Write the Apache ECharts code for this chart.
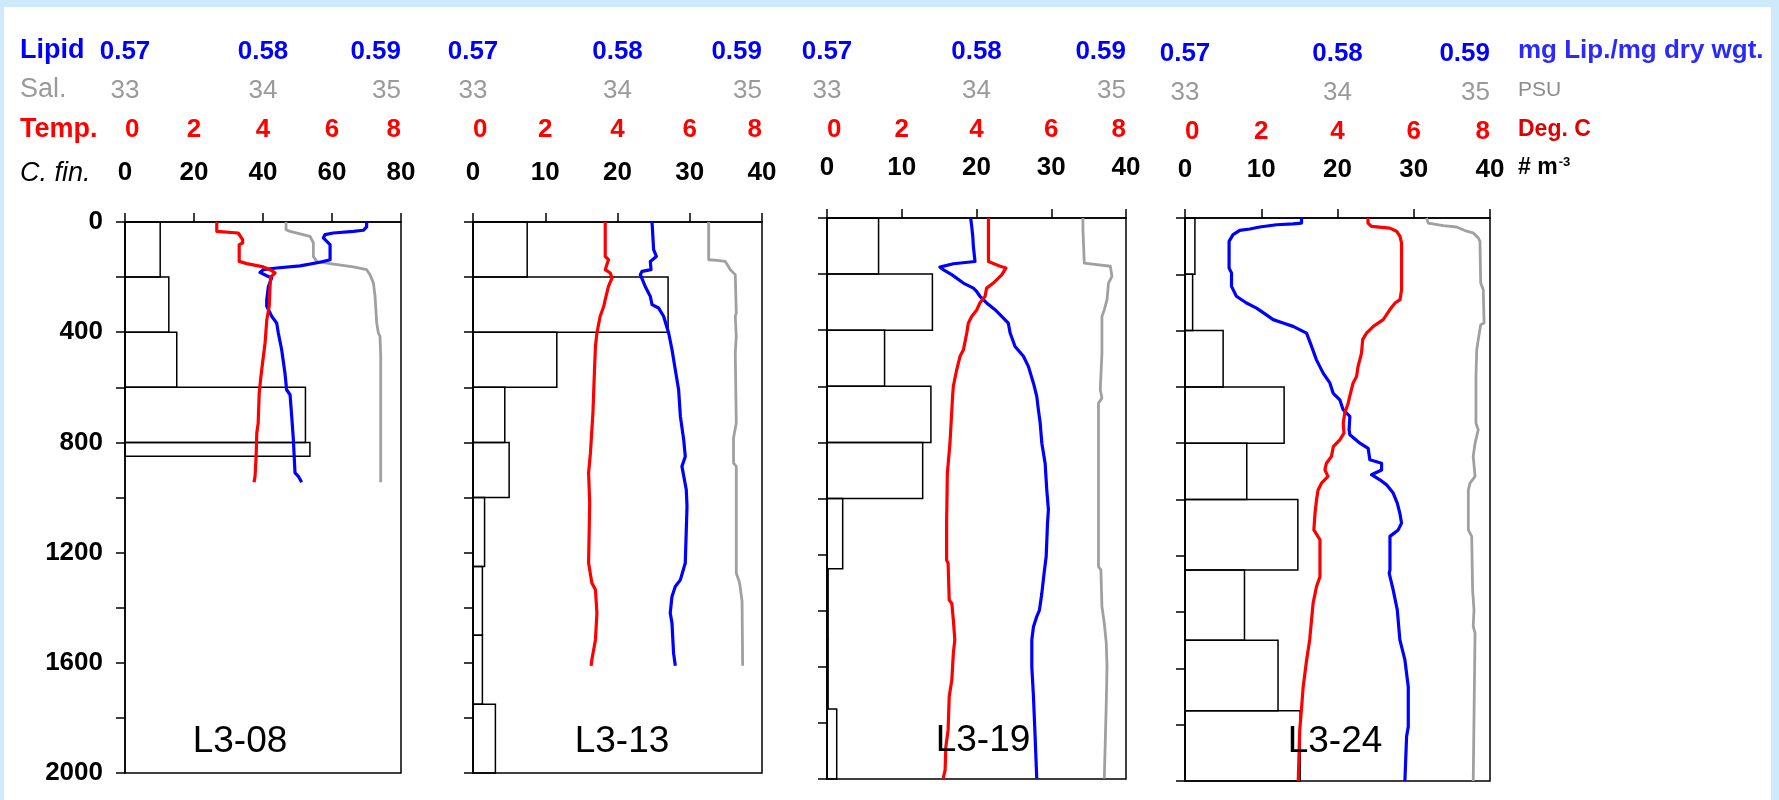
<!DOCTYPE html>
<html><head><meta charset="utf-8">
<script src="https://cdn.jsdelivr.net/npm/echarts@6/dist/echarts.min.js"></script>
<style>
html,body{margin:0;padding:0;background:#cde9fc;width:1779px;height:800px;overflow:hidden;}
#frame{position:absolute;left:4px;top:7px;width:1767px;height:793px;background:#fff;}
#chart{position:absolute;left:0;top:0;width:1779px;height:800px;}
</style></head><body>
<div id="frame"></div>
<div id="chart"></div>
<script>
// ---------- DATA ----------
const stations = ['L3-08', 'L3-13', 'L3-19', 'L3-24'];
const cfinRanges = [[0, 80, 20], [0, 40, 10], [0, 40, 10], [0, 40, 10]]; // C. finmarchicus axis (# m-3)
const tempRange = [0, 8, 2];        // Deg. C
const lipidRange = [0.57, 0.59, 0.01]; // mg Lip./mg dry wgt.
const salRange = [33, 35, 1];       // PSU
const depthRange = [0, 2000, 200];  // m
const rowLabels = ['Lipid', 'Sal.', 'Temp.', 'C. fin.'];
const unitLabels = ['mg Lip./mg dry wgt.', 'PSU', 'Deg. C', '# m'];

// histogram bins: [depthTop, depthBottom, abundance]
const cfin08 = [[0,200,10.2],[200,400,12.7],[400,600,15.0],[600,800,52.3],[800,850,53.6]];
const cfin13 = [[0,200,7.5],[200,400,27.0],[400,600,11.6],[600,800,4.4],[800,1000,5.0],[1000,1250,1.6],[1250,1500,1.3],[1500,1750,1.3],[1750,2000,3.1]];
const cfin19 = [[0,200,6.9],[200,400,14.1],[400,600,7.7],[600,800,13.9],[800,1000,12.8],[1000,1250,2.1],[1250,1500,0.15],[1500,1750,0.15],[1750,2000,1.3]];
const cfin24 = [[0,200,1.3],[200,400,1.0],[400,600,5.0],[600,800,13.0],[800,1000,8.1],[1000,1250,14.8],[1250,1500,7.8],[1500,1750,12.2],[1750,2000,15.1]];

// profiles: [value, depth]
const temp08 = [[2.66,0],[2.66,34],[3.28,40],[3.41,64],[3.41,76],[3.31,82],[3.31,143],[3.53,151],[4.01,163],[4.2,173],[4.35,185],[4.22,200],[4.2,246],[4.18,306],[4.11,355],[4.06,439],[4.01,488],[3.94,560],[3.89,621],[3.86,730],[3.82,766],[3.8,851],[3.77,923],[3.74,945]];
const lipid08 = [[0.58751,0],[0.58751,18],[0.58727,30],[0.58655,34],[0.5851,40],[0.58449,46],[0.58437,58],[0.58486,82],[0.58486,137],[0.58413,146],[0.58268,159],[0.58099,167],[0.58002,173],[0.57978,183],[0.58027,195],[0.58063,203],[0.58039,234],[0.58027,282],[0.58027,306],[0.58063,342],[0.58099,367],[0.58111,403],[0.58135,463],[0.58159,548],[0.58171,609],[0.58196,627],[0.58208,705],[0.5822,790],[0.58232,911],[0.58256,923],[0.5828,945]];
const sal08 = [[34.167,0],[34.167,28],[34.196,34],[34.341,52],[34.365,76],[34.365,125],[34.389,143],[34.486,151],[34.655,163],[34.751,173],[34.775,191],[34.8,221],[34.812,270],[34.824,367],[34.836,403],[34.848,415],[34.853,488],[34.853,945]];

const temp13 = [[3.66,0],[3.66,125],[3.75,137],[3.66,173],[3.8,185],[3.85,203],[3.75,234],[3.66,282],[3.62,306],[3.52,342],[3.43,403],[3.39,451],[3.36,548],[3.32,693],[3.25,839],[3.2,911],[3.23,1020],[3.2,1238],[3.29,1310],[3.39,1335],[3.43,1419],[3.39,1516],[3.29,1589],[3.27,1611]];
const lipid13 = [[0.58239,0],[0.5825,100],[0.58269,125],[0.58227,143],[0.58232,173],[0.5817,179],[0.58158,191],[0.58192,234],[0.58227,270],[0.58239,300],[0.58284,312],[0.58319,342],[0.58354,403],[0.58377,463],[0.584,536],[0.58423,609],[0.58435,705],[0.58458,790],[0.58469,851],[0.58446,887],[0.58476,972],[0.58481,1032],[0.58469,1238],[0.58435,1299],[0.584,1323],[0.58377,1359],[0.58365,1419],[0.58377,1456],[0.58388,1565],[0.584,1611]];
const sal13 = [[34.631,0],[34.631,137],[34.689,139],[34.746,143],[34.781,173],[34.815,191],[34.822,330],[34.815,342],[34.822,415],[34.815,476],[34.822,730],[34.803,784],[34.803,875],[34.822,887],[34.822,1274],[34.845,1310],[34.862,1377],[34.866,1611]];

const temp19 = [[4.32,0],[4.32,155],[4.63,172],[4.79,178],[4.68,202],[4.45,232],[4.27,250],[4.23,279],[4.09,303],[4.01,327],[3.87,351],[3.78,375],[3.74,410],[3.65,470],[3.56,493],[3.47,541],[3.38,600],[3.36,636],[3.34,684],[3.29,803],[3.22,910],[3.2,1088],[3.2,1219],[3.24,1231],[3.27,1362],[3.34,1374],[3.38,1433],[3.42,1504],[3.38,1552],[3.34,1647],[3.27,1706],[3.24,1825],[3.18,1885],[3.16,1968],[3.11,1998]];
const lipid19 = [[0.57961,0],[0.57968,30],[0.57975,65],[0.57979,101],[0.5799,155],[0.57845,163],[0.57755,175],[0.57777,184],[0.57834,202],[0.57912,232],[0.57979,250],[0.58001,262],[0.58023,279],[0.58068,303],[0.58124,327],[0.5818,357],[0.58213,375],[0.58225,410],[0.58258,458],[0.58314,493],[0.58347,529],[0.58381,589],[0.58403,636],[0.58414,684],[0.58426,731],[0.58437,803],[0.58459,874],[0.5847,969],[0.58481,1040],[0.58475,1088],[0.58466,1207],[0.58452,1267],[0.58437,1338],[0.58421,1398],[0.58403,1421],[0.58381,1457],[0.5837,1504],[0.5837,1600],[0.58381,1706],[0.58392,1849],[0.58403,1998]];
const sal19 = [[34.712,0],[34.712,42],[34.721,48],[34.721,161],[34.895,172],[34.906,208],[34.883,232],[34.873,291],[34.855,327],[34.839,351],[34.839,482],[34.828,612],[34.839,642],[34.816,660],[34.816,1243],[34.832,1254],[34.839,1385],[34.855,1445],[34.868,1516],[34.873,1599],[34.868,1730],[34.855,1736],[34.855,1998]];

const temp24 = [[4.8,0],[4.8,18],[4.89,30],[5.37,36],[5.55,47],[5.64,65],[5.68,89],[5.68,255],[5.64,290],[5.51,302],[5.37,326],[5.2,361],[4.94,385],[4.76,409],[4.66,432],[4.63,480],[4.54,527],[4.5,563],[4.41,586],[4.32,634],[4.28,658],[4.19,693],[4.15,729],[4.17,764],[4.06,788],[3.89,812],[3.84,847],[3.71,871],[3.67,895],[3.75,918],[3.58,942],[3.49,966],[3.45,1001],[3.41,1049],[3.38,1108],[3.54,1143],[3.54,1274],[3.45,1309],[3.36,1368],[3.27,1499],[3.19,1570],[3.1,1665],[3.06,1736],[3.01,1818],[2.97,2000]];
const lipid24 = [[0.57764,0],[0.57764,18],[0.57709,21],[0.576,24],[0.5749,32],[0.57425,39],[0.57359,44],[0.57315,59],[0.57289,83],[0.57289,178],[0.57305,195],[0.57305,243],[0.57337,278],[0.57403,302],[0.57469,320],[0.57534,344],[0.57578,361],[0.57643,373],[0.57709,385],[0.57797,409],[0.5783,456],[0.57862,504],[0.57906,551],[0.5795,586],[0.57971,622],[0.58015,646],[0.58037,681],[0.58081,705],[0.58076,752],[0.58081,770],[0.58147,800],[0.58201,818],[0.58212,859],[0.58289,871],[0.58289,895],[0.58223,912],[0.58278,930],[0.58322,948],[0.58365,977],[0.58392,1013],[0.58409,1049],[0.5842,1084],[0.58398,1108],[0.58344,1131],[0.58344,1250],[0.58339,1262],[0.58365,1321],[0.58392,1392],[0.58409,1499],[0.58442,1570],[0.58464,1665],[0.58464,1807],[0.58453,1842],[0.58442,2000]];
const sal24 = [[34.584,0],[34.595,18],[34.693,27],[34.781,32],[34.847,47],[34.89,53],[34.923,71],[34.934,83],[34.939,231],[34.956,255],[34.961,373],[34.939,379],[34.93,409],[34.923,432],[34.913,468],[34.908,563],[34.908,729],[34.923,752],[34.902,800],[34.89,847],[34.902,918],[34.869,942],[34.858,966],[34.858,1108],[34.88,1131],[34.886,1321],[34.895,1392],[34.89,1451],[34.902,1475],[34.89,2000]];

const panelData = [
  {cfin: cfin08, temp: temp08, lipid: lipid08, sal: sal08},
  {cfin: cfin13, temp: temp13, lipid: lipid13, sal: sal13},
  {cfin: cfin19, temp: temp19, lipid: lipid19, sal: sal19},
  {cfin: cfin24, temp: temp24, lipid: lipid24, sal: sal24}
];

// ---------- LAYOUT / STYLE ----------
const FONT = "'Liberation Sans', Arial, Helvetica, sans-serif";
const BLUE = '#0000ff', RED = '#ff0000', GRAY = '#9a9a9a', LINEGRAY = '#a0a0a0';
// label row offsets above each grid top: lipid, sal, temp, cfin
const layout = [
  {left: 125, top: 222, width: 276, height: 551, off: [170, 131, 92, 49], st: [240, 742]},
  {left: 473, top: 222, width: 289, height: 551, off: [170, 131, 92, 49], st: [622, 742]},
  {left: 827, top: 218, width: 299, height: 561, off: [166, 127, 88, 50], st: [983, 741]},
  {left: 1185, top: 218, width: 305, height: 563, off: [164, 125, 86, 48], st: [1335, 742]}
];

const grids = [], xAxes = [], yAxes = [], series = [];
layout.forEach((L, i) => {
  grids.push({left: L.left, top: L.top, width: L.width, height: L.height,
    show: true, borderColor: '#000', borderWidth: 1.5, backgroundColor: 'transparent',
    containLabel: false, outerBoundsMode: 'none'});
  const hidden = {axisLine: {show: false}, axisTick: {show: false}, splitLine: {show: false}};
  const lab = (color, weight, margin, fmt, minAlign, maxAlign) => ({show: true, color: color, fontFamily: FONT, fontSize: 26,
    fontWeight: weight, margin: margin, verticalAlign: 'middle', align: 'center',
    alignMinLabel: minAlign, alignMaxLabel: maxAlign,
    showMinLabel: true, showMaxLabel: true, formatter: fmt});
  const cr = cfinRanges[i];
  // 0: C. fin axis (visible ticks on top)
  xAxes.push({gridIndex: i, type: 'value', position: 'top', min: cr[0], max: cr[1], interval: cr[2],
    axisLine: {show: true, lineStyle: {color: '#000', width: 1.5}},
    axisTick: {show: true, inside: false, length: 9, lineStyle: {color: '#000', width: 1.5}},
    splitLine: {show: false},
    axisLabel: lab('#000', 'bold', L.off[3], v => String(v), 'center', 'center')});
  // 1: temperature
  xAxes.push(Object.assign({gridIndex: i, type: 'value', position: 'top', min: tempRange[0], max: tempRange[1], interval: tempRange[2],
    axisLabel: lab(RED, 'bold', L.off[2], v => String(v), 'left', 'right')}, hidden));
  // 2: lipid
  xAxes.push(Object.assign({gridIndex: i, type: 'value', position: 'top', min: lipidRange[0], max: lipidRange[1], interval: lipidRange[2],
    axisLabel: lab(BLUE, 'bold', L.off[0], v => Number(v).toFixed(2), 'center', 'right')}, hidden));
  // 3: salinity
  xAxes.push(Object.assign({gridIndex: i, type: 'value', position: 'top', min: salRange[0], max: salRange[1], interval: salRange[2],
    axisLabel: lab(GRAY, 'normal', L.off[1], v => String(v), 'center', 'right')}, hidden));

  yAxes.push({gridIndex: i, type: 'value', inverse: true, min: depthRange[0], max: depthRange[1], interval: depthRange[2],
    axisLine: {show: true, lineStyle: {color: '#000', width: 1.5}},
    axisTick: {show: true, inside: false, length: 9, lineStyle: {color: '#000', width: 1.5}},
    splitLine: {show: false},
    axisLabel: {show: i === 0, color: '#000', fontFamily: FONT, fontSize: 26, fontWeight: 'bold', margin: 22,
      showMinLabel: true, showMaxLabel: true,
      formatter: v => (v % 400 === 0 ? String(v) : '')}});

  const d = panelData[i];
  series.push({type: 'custom', xAxisIndex: i * 4, yAxisIndex: i, data: d.cfin, z: 1,
    encode: {x: 2, y: [0, 1]}, silent: true, clip: false,
    renderItem: (params, api) => {
      const p0 = api.coord([0, api.value(0)]);
      const p1 = api.coord([api.value(2), api.value(1)]);
      return {type: 'rect', shape: {x: p0[0], y: p0[1], width: p1[0] - p0[0], height: p1[1] - p0[1]},
        style: {fill: 'none', stroke: '#000', lineWidth: 1.5}};
    }});
  const line = (data, axis, color, w, z) => ({type: 'line', xAxisIndex: i * 4 + axis, yAxisIndex: i, data: data,
    showSymbol: false, symbol: 'none', z: z, silent: true, animation: false,
    lineStyle: {color: color, width: w, join: 'round'}});
  series.push(line(d.sal, 3, LINEGRAY, 2.8, 2));
  series.push(line(d.lipid, 2, BLUE, 3.2, 3));
  series.push(line(d.temp, 1, RED, 3.2, 4));
});

const graphics = [];
const rowY = [51, 90, 130, 173];
const rowStyle = [
  {fill: BLUE, fontWeight: 'bold', fontStyle: 'normal'},
  {fill: GRAY, fontWeight: 'normal', fontStyle: 'normal'},
  {fill: RED, fontWeight: 'bold', fontStyle: 'normal'},
  {fill: '#000', fontWeight: 'normal', fontStyle: 'italic'}
];
rowLabels.forEach((t, k) => {
  graphics.push({type: 'text', x: 20, y: rowY[k], style: Object.assign({text: t, fontFamily: FONT, fontSize: 27,
    verticalAlign: 'middle'}, rowStyle[k])});
});
const unitY = [51, 90, 130, 168];
const unitSize = [26, 21, 23, 23];
const unitStyle = [
  {fill: '#2a2aff', fontWeight: 'bold'},
  {fill: '#8c8c8c', fontWeight: 'normal'},
  {fill: '#e00000', fontWeight: 'bold'},
  {fill: '#000', fontWeight: 'bold'}
];
unitLabels.forEach((t, k) => {
  const st = Object.assign({fontFamily: FONT, fontSize: unitSize[k], verticalAlign: 'middle'}, unitStyle[k]);
  if (k === 3) {
    st.text = '{a|' + t + '}{s|-3}';
    st.rich = {a: {fontFamily: FONT, fontSize: 23, fontWeight: 'bold', color: '#000'},
               s: {fontFamily: FONT, fontSize: 13, fontWeight: 'bold', color: '#000', verticalAlign: 'top', padding: [0, 0, 12, 1]}};
  } else {
    st.text = t;
  }
  graphics.push({type: 'text', x: 1518, y: unitY[k], style: st});
});
stations.forEach((s, i) => {
  graphics.push({type: 'text', x: layout[i].st[0], y: layout[i].st[1],
    style: {text: s, fontFamily: FONT, fontSize: 37, fill: '#000', align: 'center', verticalAlign: 'middle'}, z: 10});
});

const chart = echarts.init(document.getElementById('chart'), null, {renderer: 'canvas', width: 1779, height: 800});
chart.setOption({
  animation: false,
  backgroundColor: 'transparent',
  textStyle: {fontFamily: FONT},
  grid: grids,
  xAxis: xAxes,
  yAxis: yAxes,
  series: series,
  graphic: graphics
});
</script>
</body></html>
